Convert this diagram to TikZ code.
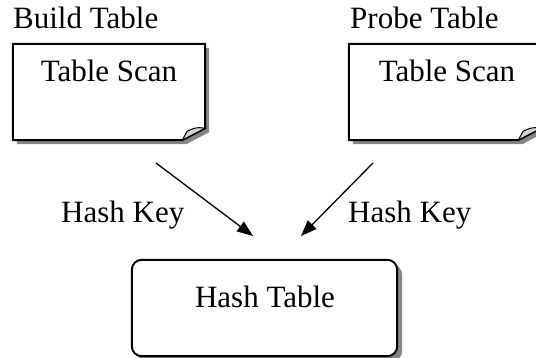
\documentclass[tikz,border=0pt]{standalone}
\usepackage{fontspec}
\setmainfont{Liberation Serif}
\usetikzlibrary{arrows.meta,calc}
\tikzset{
  txt/.style={font=\fontsize{31}{37}\selectfont, inner sep=0pt},
  sheet/.style={draw=none, inner sep=0pt, minimum width=192pt, minimum height=96pt},
  hashbox/.style={draw=none, inner sep=0pt, minimum width=265pt, minimum height=96pt},
  outline/.style={draw=black, line width=2pt, fill=white, line join=miter},
  shadow/.style={fill=black!48},
  flap/.style={fill=black!18, draw=black, line width=1pt},
  keyarrow/.style={line width=1.3pt, -{Triangle[length=16pt,width=12pt]}}
}
% a sheet of paper with a curled lower right corner and a drop shadow
\newcommand\sheetoutline[1]{%
  \path[shadow] ($(#1.north west)+(4,4)$) -- ($(#1.north east)+(4,4)$)
      -- ($(#1.south east)+(4,-8)$) -- ($(#1.south east)+(-19,4)$)
      -- ($(#1.south west)+(4,4)$) -- cycle;
  \path[outline] (#1.north west) -- (#1.north east)
      -- ($(#1.south east)+(0,-12)$) -- ($(#1.south east)+(-23,0)$)
      -- (#1.south west) -- cycle;
  \path[flap] ($(#1.south east)+(-23,0)$) -- ($(#1.south east)+(0,-12)$)
      .. controls ($(#1.south east)+(-9,-13)$) .. ($(#1.south east)+(-18,-9)$)
      .. controls ($(#1.south east)+(-21,-5)$) .. cycle;}
\begin{document}
\begin{tikzpicture}[x=1pt, y=-1pt]
  \useasboundingbox (0,0) rectangle (536,358);

  % input sheets
  \node[sheet] (build) at (109,92) {};
  \node[sheet] (probe) at (445,92) {};
  \sheetoutline{build}
  \sheetoutline{probe}
  \node[txt, anchor=base] (buildscan) at (109,82) {Table Scan};
  \node[txt, anchor=base] (probescan) at (447,82) {Table Scan};
  \node[txt, anchor=base west] (buildlbl) at (13,29) {Build Table};
  \node[txt, anchor=base west] (probelbl) at (350,29) {Probe Table};

  % hash table
  \node[hashbox] (hash) at (264.5,308) {};
  \fill[black!48, rounded corners=10pt]
    ($(hash.north west)+(5,5)$) rectangle ($(hash.south east)+(5,5)$);
  \draw[line width=2pt, fill=white, rounded corners=10pt]
    (hash.north west) rectangle (hash.south east);
  \node[txt, anchor=base] (hashtxt) at (265,308) {Hash Table};

  % hash key arrows
  \coordinate (la) at (156,163);
  \coordinate (lb) at (253,236);
  \coordinate (ra) at (373,163);
  \coordinate (rb) at (301,236);
  \draw[keyarrow] (la) -- (lb);
  \draw[keyarrow] (ra) -- (rb);
  \node[txt, anchor=base west] (lkey) at (61,223) {Hash Key};
  \node[txt, anchor=base west] (rkey) at (348,223) {Hash Key};
\end{tikzpicture}
\end{document}
